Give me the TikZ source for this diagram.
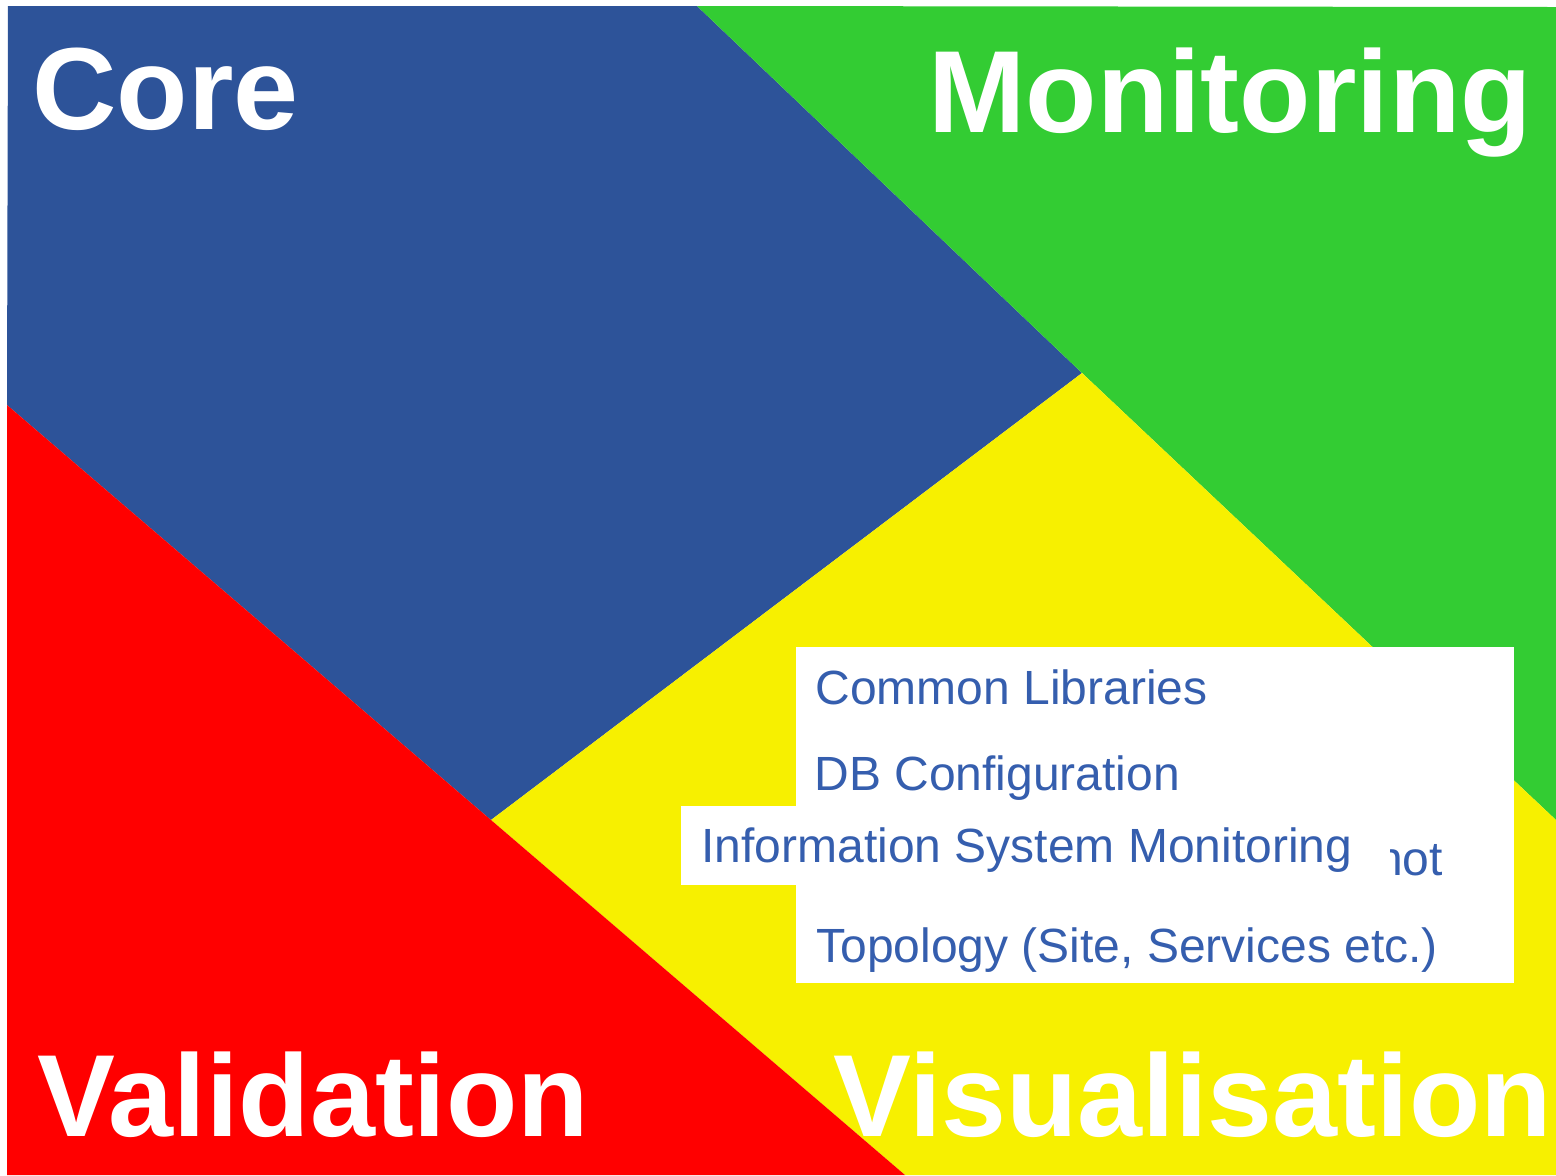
\documentclass[tikz,border=0pt]{standalone}
\usepackage{fontspec}
\setmainfont{Liberation Sans}
\definecolor{cblue}{RGB}{45,83,153}
\definecolor{cgreen}{RGB}{51,204,51}
\definecolor{cyellow}{RGB}{247,240,0}
\definecolor{cred}{RGB}{255,0,0}
\definecolor{ctext}{RGB}{53,94,174}
\begin{document}
\begin{tikzpicture}[x=0.5pt,y=-0.5pt,
  big/.style={anchor=base west,inner sep=0pt,text=white,font=\fontsize{58.4pt}{58.4pt}\selectfont\bfseries},
  item/.style={anchor=base west,inner sep=0pt,text=ctext,font=\fontsize{24pt}{24pt}\selectfont},
  panel/.style={fill=white,draw=none}]
\useasboundingbox (0,0) rectangle (1556,1175);
\fill[white] (0,0) rectangle (1556,1175);
% quadrants
\coordinate (tl) at (8,6);
\coordinate (tm) at (697,6);
\coordinate (tr) at (1556,7);
\coordinate (c) at (1082,373);
\coordinate (rm) at (1556,820);
\coordinate (br) at (1556,1175);
\coordinate (bm) at (905,1175);
\coordinate (bl) at (7,1175);
\coordinate (lm) at (7,405);
\coordinate (m) at (491,820);
\fill[cblue] (tl) -- (tm) -- (c) -- (m) -- (lm) -- cycle;
\fill[cgreen] (tm) -- (tr) -- (rm) -- (c) -- cycle;
\fill[cyellow] (c) -- (rm) -- (br) -- (bm) -- (m) -- cycle;
\fill[cred] (lm) -- (m) -- (bm) -- (bl) -- cycle;
% titles
\node[big] (core) at (32,129) {Core};
\node[big] (mon) at (928,132) {Monitoring};
\node[big] (val) at (37,1136) {Validation};
\node[big] (vis) at (833,1136) {Visualisation};
% list panel
\path[panel] (796,647) rectangle (1514,983);
\node[item] (l1) at (815,704) {Common Libraries};
\node[item] (l2) at (814,790) {DB Configuration};
\node[item] (l3) at (813,875) {Information System Snapshot};
\node[item] (l4) at (816,962) {Topology (Site, Services etc.)};
% overlay panel
\path[panel] (681,806) rectangle (1390,885);
\node[item] (ov) at (701,862) {Information System Monitoring};
\end{tikzpicture}
\end{document}
